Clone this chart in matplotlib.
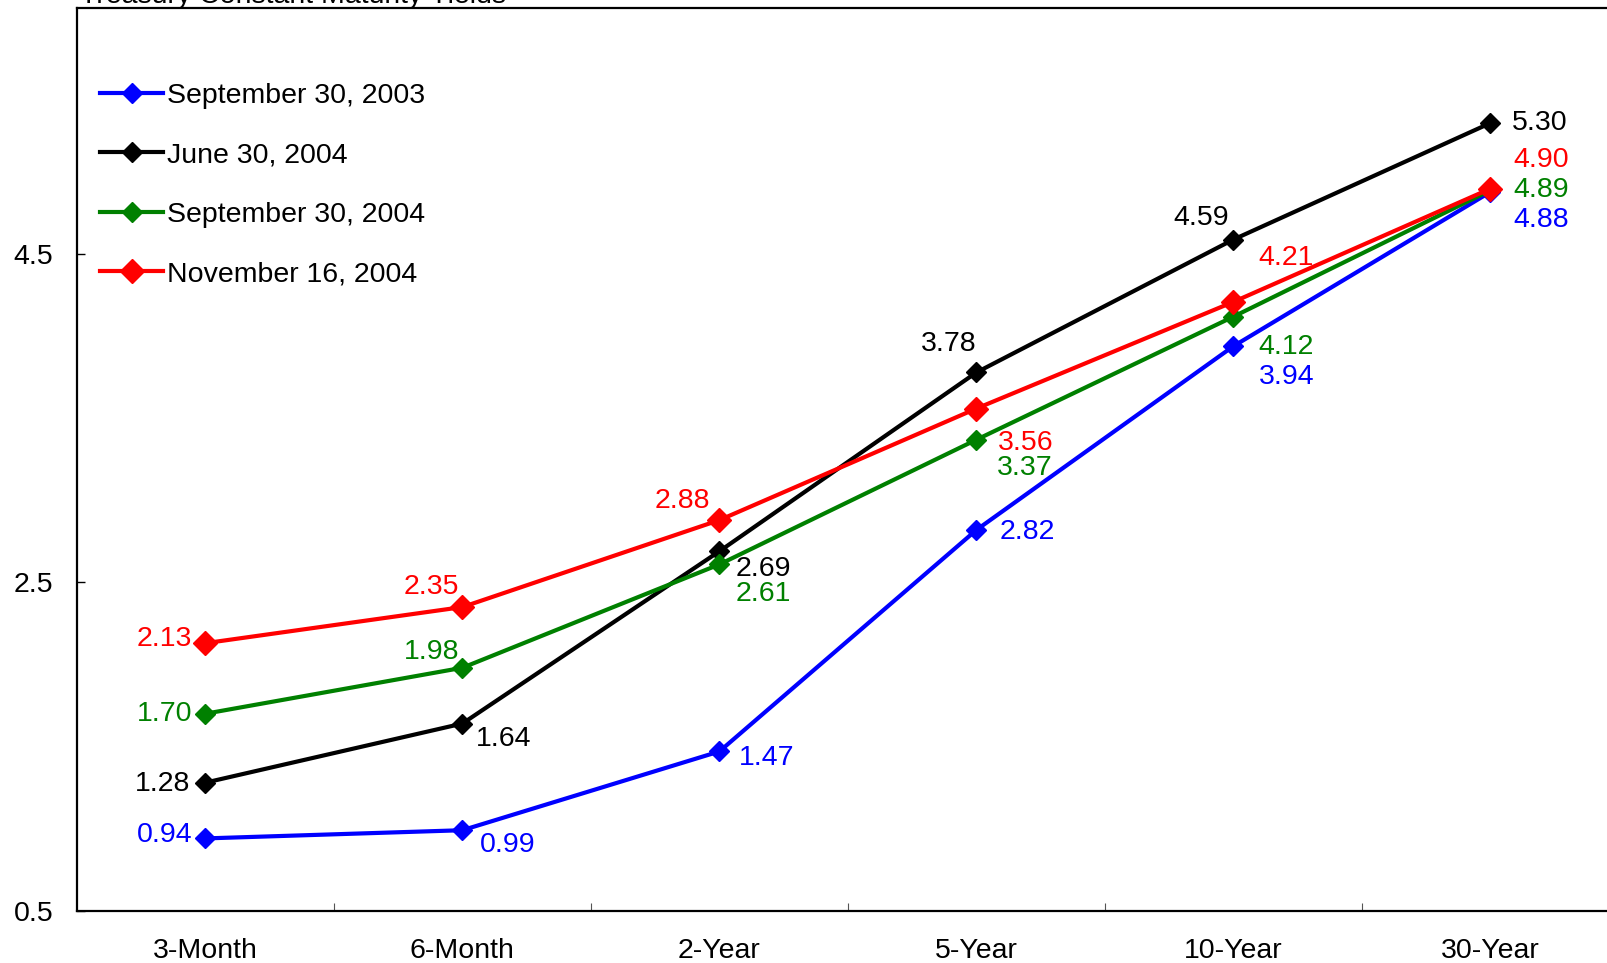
"""
Treasury yield curve snapshots, 2003-2004
"""

import numpy as np
import matplotlib
matplotlib.use('Agg')
import matplotlib.pyplot as plt
from matplotlib.ticker import FixedLocator, NullFormatter

plt.rcParams['font.family'] = ['Liberation Sans', 'DejaVu Sans']

maturities = ['3-Month', '6-Month', '2-Year', '5-Year', '10-Year', '30-Year']

sep_2003 = [0.94, 0.99, 1.47, 2.82, 3.94, 4.88]
jun_2004 = [1.28, 1.64, 2.69, 3.78, 4.59, 5.30]
sep_2004 = [1.70, 1.98, 2.61, 3.37, 4.12, 4.89]
nov_2004 = [2.13, 2.35, 2.88, 3.56, 4.21, 4.90]

series_names = ['September 30, 2003', 'June 30, 2004',
                'September 30, 2004', 'November 16, 2004']
y_ticks = [0.5, 2.5, 4.5]

colors = ['#0000FF', '#000000', '#008000', '#FF0000']
marker_sizes = [10, 10, 10, 12]

# label offsets in pixels (dx, dy) for each value
label_offsets = [
    [(-41, 3), (45, -15), (47, -7), (51, -2), (53, -31), (51, -28)],
    [(-43, -1), (41, -15), (44, -18), (-28, 28), (-32, 22), (49, 0)],
    [(-41, 0), (-31, 16), (44, -30), (48, -28), (53, -30), (51, 0)],
    [(-41, 4), (-31, 20), (-37, 19), (49, -34), (53, 44), (51, 29)],
]

fig = plt.figure(figsize=(16.08, 9.63), dpi=100)
ax = fig.add_axes([0.0478, 0.0544, 0.959, 0.9371])

x = np.arange(len(maturities))
all_series = [sep_2003, jun_2004, sep_2004, nov_2004]

for vals, name, col, ms in zip(all_series, series_names, colors, marker_sizes):
    ax.plot(x, vals, color=col, lw=3, marker='D', ms=ms,
            markeredgecolor=col, label=name, zorder=3)

for vals, col, offs in zip(all_series, colors, label_offsets):
    for xi, v, (dx, dy) in zip(x, vals, offs):
        ax.annotate(f'{v:.2f}', (xi, v), xytext=(dx, dy),
                    textcoords='offset pixels', ha='center', va='center',
                    color=col, fontsize=20.5)

ax.set_xlim(-0.5, len(maturities) - 0.5)
ax.set_ylim(0.5, 6.0)

ax.set_xticks(x)
ax.set_xticklabels(maturities, fontsize=20.5)
ax.xaxis.set_minor_locator(FixedLocator(np.arange(0.5, len(maturities) - 1, 1.0)))
ax.xaxis.set_minor_formatter(NullFormatter())
ax.tick_params(axis='x', which='major', length=0, pad=19.5)
ax.tick_params(axis='x', which='minor', direction='in', length=6,
               width=0.8, color='#555555')

ax.set_yticks(y_ticks)
ax.set_yticklabels([f'{t:.1f}' for t in y_ticks], fontsize=20.5)
ax.tick_params(axis='y', direction='in', length=6, width=1, pad=17)

for sp in ax.spines.values():
    sp.set_linewidth(1.6)

ax.legend(loc='upper left', bbox_to_anchor=(0.0153, 0.917), frameon=False,
          fontsize=20.5, handlelength=2.2, handletextpad=0.15,
          labelspacing=1.17, borderpad=0, borderaxespad=0)

fig.text(0.05, 1 - 3 / 963, 'Treasury Constant Maturity Yields',
         fontsize=20.5, va='baseline', ha='left')

fig.savefig('out.png', dpi=100)
